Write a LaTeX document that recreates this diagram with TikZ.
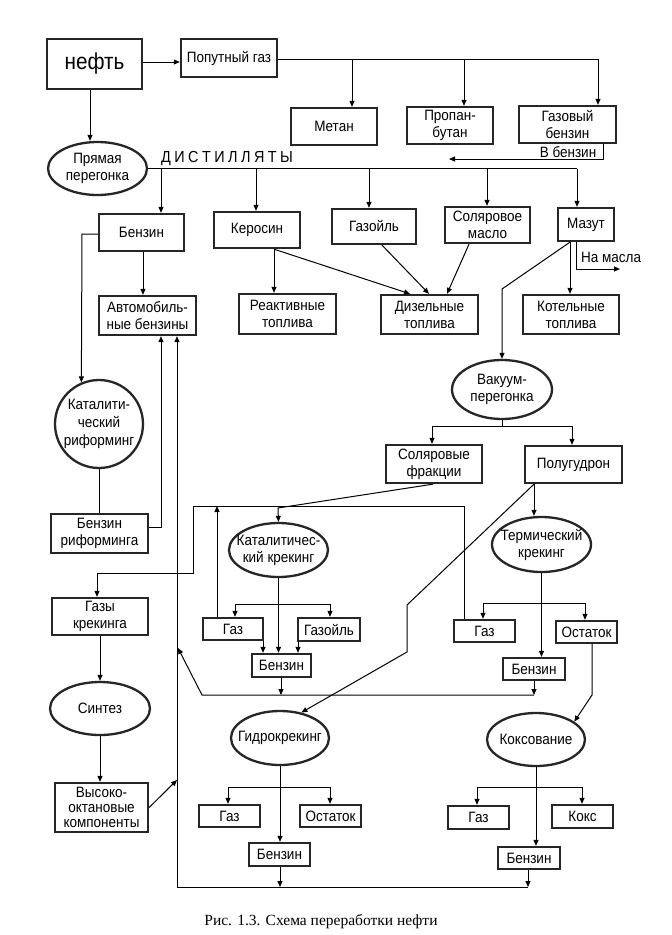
\documentclass[tikz,border=0pt]{standalone}
\usepackage{fontspec}
\setmainfont{Liberation Sans}[FakeStretch=0.9]
\newfontfamily\capfont{Liberation Serif}
\usetikzlibrary{shapes.geometric,arrows.meta}
\newcommand\normfont{\fontsize{15}{17}\selectfont}
\tikzset{
  box/.style={draw=black!85, line width=2.3pt, rectangle, inner sep=0pt, align=center, font=\normfont},
  oval/.style={draw=black!85, line width=2.3pt, ellipse, inner sep=0pt},
  txt/.style={inner sep=0pt, align=center, font=\normfont},
  con/.style={line width=1pt},
  arr/.style={con, -{Triangle[length=6pt,width=5pt]}},
}
\newcommand\bx[5]{\node[box,minimum width=#3pt,minimum height=#4pt] (#1) at (#2) {#5};}
\newcommand\ovl[5]{\node[oval,minimum width=#3pt,minimum height=#4pt] (#1) at (#2) {};
  \node[txt] (#1t) at (#1.center) {#5};}
\begin{document}
\begin{tikzpicture}[x=1pt,y=-1pt]
\useasboundingbox[fill=white] (0,0) rectangle (672,935);

% ---- nodes ----
\node[box,line width=2.6pt,minimum width=95pt,minimum height=50pt,font=\fontsize{23}{26}\selectfont] (neft) at (94.5,64) {нефть};
\bx{pg}{229,58}{96}{38}{Попутный газ}
\bx{metan}{334,126.5}{86}{37}{Метан}
\bx{propan}{450,125.5}{86}{37}{Пропан-\\бутан}
\bx{gazben}{567.5,124.5}{97}{37}{Газовый\\бензин}
\ovl{pp}{97.5,168.5}{99}{53}{Прямая\\перегонка}
\bx{benzin}{141.5,232.5}{85}{37}{Бензин}
\bx{kerosin}{257,230}{86}{36}{Керосин}
\bx{gazoil}{374,226.5}{84}{35}{Газойль}
\bx{solmaslo}{487.5,225}{85}{36}{Соляровое\\масло}
\bx{mazut}{586,224.5}{56}{33}{Мазут}
\bx{avto}{147.5,315.5}{97}{39}{Автомобиль-\\ные бензины}
\bx{reakt}{287.5,314}{97}{40}{Реактивные\\топлива}
\bx{dizel}{429.5,314.5}{97}{39}{Дизельные\\топлива}
\bx{kotel}{571,314.5}{96}{39}{Котельные\\топлива}
\ovl{vakuum}{502,389.5}{100}{59}{Вакуум-\\перегонка}
\bx{solfr}{434,464}{96}{38}{Соляровые\\фракции}
\bx{polug}{573.5,464.5}{97}{37}{Полугудрон}
\node[oval,minimum width=88pt,minimum height=88pt] (kr) at (99,424) {};
\node[txt,font=\fontsize{15}{18}\selectfont] (krt) at (kr.center) {Каталити-\\ческий\\риформинг};
\bx{benrif}{99.5,533.5}{97}{39}{Бензин\\риформинга}
\ovl{kk}{278.5,550}{99}{54}{Каталитичес-\\кий крекинг}
\ovl{tk}{541.5,544.5}{99}{55}{Термический\\крекинг}
\bx{gazkr}{100,616.5}{96}{37}{Газы\\крекинга}
\bx{kkgaz}{233,629}{60}{22}{Газ}
\bx{kkgazoil}{329,629.5}{62}{23}{Газойль}
\bx{kkben}{281.5,665.5}{59}{23}{Бензин}
\bx{tkgaz}{484.5,631}{61}{22}{Газ}
\bx{tkost}{586.5,632}{61}{22}{Остаток}
\bx{tkben}{534,669}{62}{22}{Бензин}
\ovl{sintez}{100,708.5}{100}{53}{Синтез}
\ovl{gk}{280,738}{98}{54}{Гидрокрекинг}
\ovl{kok}{536,739.5}{98}{53}{Коксование}
\node[box,minimum width=93pt,minimum height=49pt,font=\fontsize{15}{15}\selectfont] (vysoko) at (101.5,807.5) {Высоко-\\октановые\\компоненты};
\bx{gkgaz}{229.5,816}{61}{22}{Газ}
\bx{gkost}{330.5,816}{61}{22}{Остаток}
\bx{gkben}{279.5,854.5}{61}{23}{Бензин}
\bx{kokgaz}{478.5,817.5}{61}{23}{Газ}
\bx{koks}{582.5,816.5}{61}{23}{Кокс}
\bx{kokben}{529,858}{62}{22}{Бензин}

% ---- labels ----
\node[txt,font=\fontsize{16}{18}\selectfont] (dist) at (227,159) {Д\kern3.5pt И\kern3.5pt С\kern3.5pt Т\kern3.5pt И\kern3.5pt Л\kern3.5pt Л\kern3.5pt Я\kern3.5pt Т\kern3.5pt Ы};
\node[txt] (vben) at (568,152) {В бензин};
\node[txt,anchor=west] (namasla) at (581,257) {На масла};
\node[inner sep=0pt,font=\capfont\fontsize{15.5}{17}\selectfont] (cap) at (321,922) {Рис. 1.3. Схема переработки нефти};

% ---- connectors ----
\draw[arr] (neft.east |- 0,62) -- (pg.west |- 0,62);
\draw[arr] (90,0 |- neft.south) -- (90,0 |- pp.north);
\draw[con] (pg.east |- 0,59) -- (598,59);
\draw[arr] (352,59) -- (352,0 |- metan.north);
\draw[arr] (464,59) -- (464,0 |- propan.north);
\draw[arr] (598,59) -- (598,0 |- gazben.north);
\draw[arr] (603,0 |- gazben.south) -- (603,159) -- (449,159);

\draw[con] (pp.east) -- (577,168.5);
\draw[arr] (161,168.5) -- (161,0 |- benzin.north);
\draw[arr] (256,168.5) -- (256,0 |- kerosin.north);
\draw[arr] (369,168.5) -- (369,0 |- gazoil.north);
\draw[arr] (487,168.5) -- (487,0 |- solmaslo.north);
\draw[arr] (577,168.5) -- (577,0 |- mazut.north);

\draw[arr] (143,0 |- benzin.south) -- (143,0 |- avto.north);
\draw[arr] (benzin.west |- 0,234) -- (82,234) -- (kr.113);
\draw[arr] (274,0 |- kerosin.south) -- (274,0 |- reakt.north);
\draw[arr] (274,0 |- kerosin.south) -- (410,0 |- dizel.north);
\draw[arr] (382,0 |- gazoil.south) -- (429,0 |- dizel.north);
\draw[arr] (469,0 |- solmaslo.south) -- (447,0 |- dizel.north);
\draw[arr] (570,0 |- mazut.south) -- (570,0 |- kotel.north);
\draw[arr] (576,0 |- mazut.south) -- (576,269) -- (620,269);
\draw[arr] (570,0 |- mazut.south) -- (vakuum.north |- 0,289) -- (vakuum.north);

\draw[con] (vakuum.south) -- (vakuum.south |- 0,426);
\draw[con] (432,426) -- (572,426);
\draw[arr] (432,426) -- (432,0 |- solfr.north);
\draw[arr] (572,426) -- (572,0 |- polug.north);

\draw[arr] (433,0 |- solfr.south) -- (278,508) -- (kk.north);
\draw[arr] (534,0 |- polug.south) -- (534,0 |- tk.north);
\draw[arr] (534,0 |- polug.south) -- (407,605) -- (407,652) -- (gk.50);

% catalytic reforming
\draw[con] (kr.south) -- (kr.south |- benrif.north);
\draw[arr] (benrif.east |- 0,527) -- (161,527) -- (161,0 |- avto.south);

% catalytic cracking
\draw[arr] (kk.south) -- (kk.south |- kkben.north);
\draw[con] (235,604) -- (330,604);
\draw[arr] (235,604) -- (235,0 |- kkgaz.north);
\draw[arr] (330,604) -- (330,0 |- kkgazoil.north);
\draw[arr] (263,0 |- kkgaz.south) -- (263,0 |- kkben.north);
\draw[arr] (298,0 |- kkgazoil.south) -- (298,0 |- kkben.north);
\draw[arr] (217,0 |- kkgaz.north) -- (217,506);

% gas loop to Газы крекинга
\draw[arr] (464,0 |- tkgaz.north) -- (464,506) -- (193,506) -- (193,573) -- (97,573) -- (97,0 |- gazkr.north);
\draw[arr] (gazkr.south) -- (gazkr.south |- sintez.north);
\draw[arr] (sintez.south) -- (sintez.south |- vysoko.north);

% thermal cracking
\draw[arr] (tk.south) -- (tk.south |- tkben.north);
\draw[con] (483,603) -- (585,603);
\draw[arr] (483,603) -- (483,0 |- tkgaz.north);
\draw[arr] (585,603) -- (585,0 |- tkost.north);
\draw[arr] (tkben.south) -- (tkben.south |- 0,695);
\draw[arr] (281,0 |- kkben.south) -- (281,695);
\draw[arr] (534,695) -- (202,695) -- (178,648);
\draw[arr] (592,0 |- tkost.south) -- (592,695) -- (kok.25);

% hydrocracking
\draw[arr] (gk.south) -- (gk.south |- gkben.north);
\draw[con] (228,787) -- (330,787);
\draw[arr] (228,787) -- (228,0 |- gkgaz.north);
\draw[arr] (330,787) -- (330,0 |- gkost.north);
\draw[arr] (280,0 |- gkben.south) -- (280,887);

% coking
\draw[arr] (kok.south) -- (kok.south |- kokben.north);
\draw[con] (477,787) -- (582,787);
\draw[arr] (477,787) -- (477,0 |- kokgaz.north);
\draw[arr] (582,787) -- (582,0 |- koks.north);
\draw[arr] (528,0 |- kokben.south) -- (528,887);

% collector to автомобильные бензины
\draw[arr] (528,887) -- (177,887) -- (177,0 |- avto.south);
\draw[arr] (vysoko.east) -- (177,780);
\end{tikzpicture}
\end{document}
